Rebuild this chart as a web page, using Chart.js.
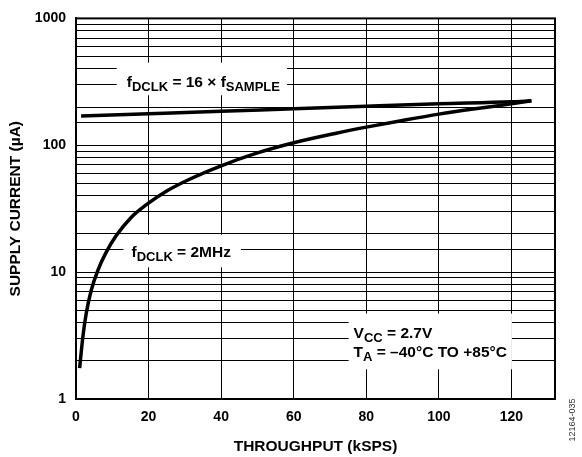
<!DOCTYPE html>
<html><head><meta charset="utf-8">
<script src="https://cdn.jsdelivr.net/npm/chart.js@4/dist/chart.umd.min.js"></script>
<style>html,body{margin:0;padding:0;background:#fff}#wrap{width:582px;height:457px;position:relative}</style>
</head><body><div id="wrap"><canvas id="c" width="582" height="457"></canvas></div>
<script>
// ---- data ----
const throughputFixedRatio = [1.4, 20, 40, 60, 80, 100, 120, 125.5];
const currentFixedRatio    = [170, 177, 185, 194, 203, 212, 220, 224];
const throughput2MHz = [1.0, 1.9, 2.8, 4.2, 6.0, 8.3, 11.1, 15.2, 19.4, 25, 31, 40, 50, 60, 72, 80, 90, 100, 110, 120, 125.5];
const current2MHz    = [1.75, 3.1, 4.7, 7.2, 10.3, 14.3, 19.4, 27, 34, 43.6, 53.5, 68.9, 87, 104.7, 125, 139, 157, 176, 194, 212, 224];
const xTickValues = [0, 20, 40, 60, 80, 100, 120];
const yTickLabels = [1, 10, 100, 1000];
const xTitle = 'THROUGHPUT (kSPS)';
const yTitle = 'SUPPLY CURRENT (µA)';

const FONT = '"Liberation Sans", Arial, sans-serif';
const toPts = (xs, ys) => xs.map((x, i) => ({x, y: ys[i]}));

// annotation text runs (sub = subscript)
const notes = [
  {x: 14.0, y: [320], pad: {l: 10, r: 7, t: 13, b: 4},
   lines: [[{t: 'f'}, {t: 'DCLK', sub: true}, {t: ' = 16 × f'}, {t: 'SAMPLE', sub: true}]]},
  {x: 15.3, y: [14.6], pad: {l: 8, r: 10, t: 11, b: 6},
   lines: [[{t: 'f'}, {t: 'DCLK', sub: true}, {t: ' = 2MHz'}]]},
  {x: 76.5, y: [3.37, 2.38], pad: {l: 5, r: 5, t: 13, b: 8},
   lines: [[{t: 'V'}, {t: 'CC', sub: true}, {t: ' = 2.7V'}],
           [{t: 'T'}, {t: 'A', sub: true}, {t: ' = –40°C TO +85°C'}]]}
];
const MAIN = 15.5, SUB = 13, SHIFT = 4.5;

const notesPlugin = {
  id: 'notes',
  afterDatasetsDraw(chart) {
    const ctx = chart.ctx, xs = chart.scales.x, ys = chart.scales.y;
    const cap = MAIN * 0.716;
    ctx.save();
    for (const n of notes) {
      const px = xs.getPixelForValue(n.x);
      const mids = n.y.map(v => ys.getPixelForValue(v));
      let maxW = 0;
      n.lines.forEach(line => {
        let w = 0;
        for (const r of line) { ctx.font = `bold ${r.sub ? SUB : MAIN}px ${FONT}`; r.w = ctx.measureText(r.t).width; w += r.w; }
        maxW = Math.max(maxW, w);
      });
      const top = mids[0] - cap / 2 - n.pad.t;
      const bottom = mids[mids.length - 1] + cap / 2 + SHIFT + n.pad.b;
      ctx.fillStyle = '#fff';
      ctx.fillRect(px - n.pad.l, top, maxW + n.pad.l + n.pad.r, bottom - top);
      ctx.fillStyle = '#000';
      ctx.textBaseline = 'alphabetic';
      ctx.textAlign = 'left';
      n.lines.forEach((line, i) => {
        let cx = px; const base = mids[i] + cap / 2;
        for (const r of line) {
          ctx.font = `bold ${r.sub ? SUB : MAIN}px ${FONT}`;
          ctx.fillText(r.t, cx, r.sub ? base + SHIFT : base);
          cx += r.w;
        }
      });
    }
    // frame
    const a = chart.chartArea;
    ctx.strokeStyle = '#000'; ctx.lineWidth = 2;
    ctx.strokeRect(a.left, a.top, a.right - a.left, a.bottom - a.top);
    // side code
    ctx.save();
    ctx.translate(573, 420); ctx.rotate(-Math.PI / 2);
    ctx.font = `9px ${FONT}`; ctx.fillStyle = '#333'; ctx.textAlign = 'center'; ctx.textBaseline = 'middle';
    ctx.fillText('12164-035', 0, 0);
    ctx.restore();
    ctx.restore();
  }
};

new Chart(document.getElementById('c'), {
  type: 'scatter',
  data: {
    datasets: [
      {data: toPts(throughputFixedRatio, currentFixedRatio), showLine: true, borderColor: '#000', borderWidth: 3.5,
       pointRadius: 0, cubicInterpolationMode: 'monotone', fill: false},
      {data: toPts(throughput2MHz, current2MHz), showLine: true, borderColor: '#000', borderWidth: 3.5,
       pointRadius: 0, cubicInterpolationMode: 'monotone', fill: false}
    ]
  },
  options: {
    responsive: false, animation: false, devicePixelRatio: 1,
    layout: {padding: {top: 17, right: 27, left: 0, bottom: 0}},
    plugins: {legend: {display: false}, tooltip: {enabled: false}},
    scales: {
      x: {
        type: 'linear', min: 0, max: 132,
        afterFit: s => { s.height = 58; },
        afterBuildTicks: s => { s.ticks = xTickValues.map(v => ({value: v})); },
        ticks: {stepSize: 20, includeBounds: false, color: '#000', padding: 10, font: {family: FONT, size: 14, weight: 'bold'}},
        grid: {color: '#000', lineWidth: 1, drawTicks: false},
        border: {display: true, color: '#000', width: 2},
        title: {display: true, text: xTitle, color: '#000', padding: {top: 0, bottom: 1}, font: {family: FONT, size: 15.5, weight: 'bold'}}
      },
      y: {
        type: 'logarithmic', min: 1, max: 1000,
        afterFit: s => { s.width = 76; },
        ticks: {autoSkip: false, color: '#000', padding: 10, font: {family: FONT, size: 14, weight: 'bold'},
                callback: v => yTickLabels.includes(v) ? String(v) : ''},
        grid: {color: '#000', lineWidth: 1, drawTicks: false},
        border: {display: true, color: '#000', width: 2},
        title: {display: true, text: yTitle, color: '#000', padding: {top: 6, bottom: 0}, font: {family: FONT, size: 15.5, weight: 'bold'}}
      }
    }
  },
  plugins: [notesPlugin]
});
</script></body></html>
